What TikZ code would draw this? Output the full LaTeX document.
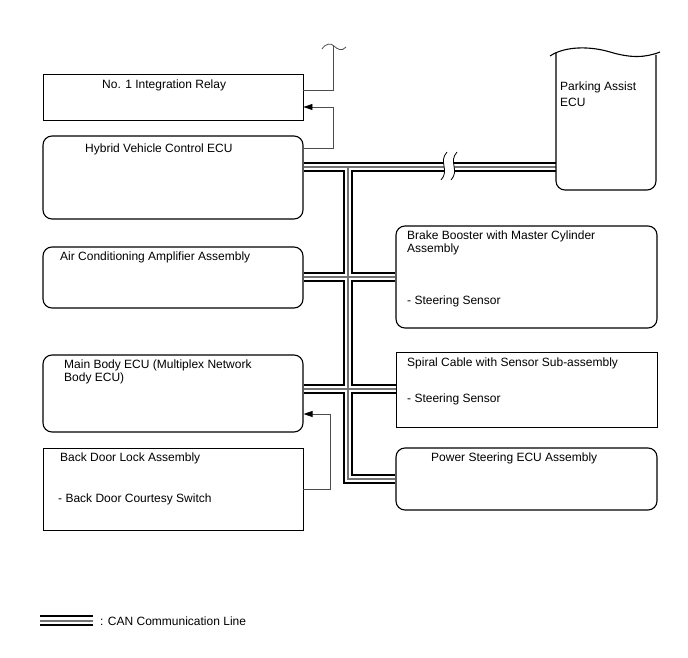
\documentclass[tikz,border=0pt]{standalone}
\usepackage{fontspec}
\setmainfont{Liberation Sans}
\usetikzlibrary{arrows.meta,backgrounds}

\tikzset{
  ecubox/.style={draw, line width=1.1pt, rounded corners=9pt, inner sep=0pt, minimum width=260pt},
  plainbox/.style={ecubox, sharp corners, line width=0.9pt},
  lbl/.style={anchor=base west, inner sep=0pt},
  mlbl/.style={anchor=north west, inner sep=0pt, align=left},
  sig/.style={draw=black!70, line width=0.8pt},
  sigarr/.style={sig, -{Triangle[length=9pt,width=6pt,black]}},
}

\begin{document}
\begin{tikzpicture}[x=1pt,y=-1pt,font=\fontsize{12}{13}\selectfont]
\useasboundingbox (0,0) rectangle (688,658);

% left column
\node[plainbox, minimum height=46pt] (relay) at (173,97) {};
\node[ecubox, minimum height=83pt] (hv) at (173,177.5) {};
\node[ecubox, minimum height=61pt] (ac) at (173,277.5) {};
\node[ecubox, minimum height=77pt] (mb) at (173,393.5) {};
\node[plainbox, minimum height=82pt] (bd) at (173,489) {};

% right column
\node[ecubox, minimum width=261pt, minimum height=102pt] (bb) at (526.5,277) {};
\node[plainbox, minimum width=261pt, minimum height=75pt] (sc) at (526.5,389.5) {};
\node[ecubox, minimum width=261pt, minimum height=62pt] (ps) at (526.5,479) {};

% parking assist ECU (cut-off top)
\draw[line width=1.1pt, rounded corners=9pt] (556,53) -- (556,190) -- (656,190) -- (656,55);
\draw[line width=1.1pt] (550,56) .. controls (565,46) and (590,46) .. (610,52)
  .. controls (630,58) and (645,58) .. (660,52);

% labels
\node[lbl] (relayT) at (102,88.3) {No. 1 Integration Relay};
\node[lbl] (hvT) at (85,152.3) {Hybrid Vehicle Control ECU};
\node[lbl] (acT) at (60,260.3) {Air Conditioning Amplifier Assembly};
\node[mlbl] (mbT) at (64,359.5) {Main Body ECU (Multiplex Network\\Body ECU)};
\node[lbl] (bdT) at (60,461.3) {Back Door Lock Assembly};
\node[lbl] (bdS) at (58,502.3) {- Back Door Courtesy Switch};
\node[mlbl, font=\fontsize{12}{16}\selectfont] (paT) at (560,81.5) {Parking Assist\\ECU};
\node[mlbl] (bbT) at (407,230.5) {Brake Booster with Master Cylinder\\Assembly};
\node[lbl] (bbS) at (407,304.3) {- Steering Sensor};
\node[lbl] (scT) at (407,366.3) {Spiral Cable with Sensor Sub-assembly};
\node[lbl] (scS) at (407,402.3) {- Steering Sensor};
\node[lbl] (psT) at (431,461.3) {Power Steering ECU Assembly};
\node[lbl] (legT) at (100,625.3) {: CAN Communication Line};

% bus points
\coordinate (j0) at (348,167);
\coordinate (j1) at (348,277);
\coordinate (j2) at (348,389);
\coordinate (j3) at (348,479);
\coordinate (paw) at (556,167);
\coordinate (legA) at (40,620.5);
\coordinate (legB) at (93,620.5);

% CAN lines
\begin{scope}[on background layer]
\foreach \w/\c in {9.5/black,5.5/white,1.3/black!55}{
  \draw[line width=\w pt, draw=\c] (hv.east |- j0) -- (paw);
  \draw[line width=\w pt, draw=\c] (j0) -- (j3) -- (ps.west |- j3);
  \draw[line width=\w pt, draw=\c] (ac.east |- j1) -- (bb.west |- j1);
  \draw[line width=\w pt, draw=\c] (mb.east |- j2) -- (sc.west |- j2);
}
\foreach \w/\c in {11.5/black,7.5/white,2/black!55}
  \draw[line width=\w pt, draw=\c] (legA) -- (legB);
\end{scope}

% break mark
\fill[white] (447,152) .. controls (438,162) and (450,170) .. (441,180) -- (451,180)
  .. controls (460,170) and (448,162) .. (457,152) -- cycle;
\draw[line width=0.8pt] (447,152) .. controls (438,162) and (450,170) .. (441,180);
\draw[line width=0.8pt] (457,152) .. controls (448,162) and (460,170) .. (451,180);

% signal lines
\coordinate (rl1) at (333,148);
\coordinate (rl2) at (333,107);
\coordinate (top1) at (333,90);
\coordinate (top2) at (333,46);
\coordinate (bdr) at (330,414);
\draw[sigarr] (hv.east |- rl1) -- (rl1) -- (rl2) -- (relay.east |- rl2);
\draw[sig] (relay.east |- top1) -- (top1) -- (top2);
\draw[sig] (322,49) .. controls (326,43) and (331,43) .. (334,46)
  .. controls (337,49) and (342,52) .. (346,47);
\draw[sigarr] (bd.east) -| (bdr) -- (mb.east |- bdr);

\end{tikzpicture}
\end{document}
